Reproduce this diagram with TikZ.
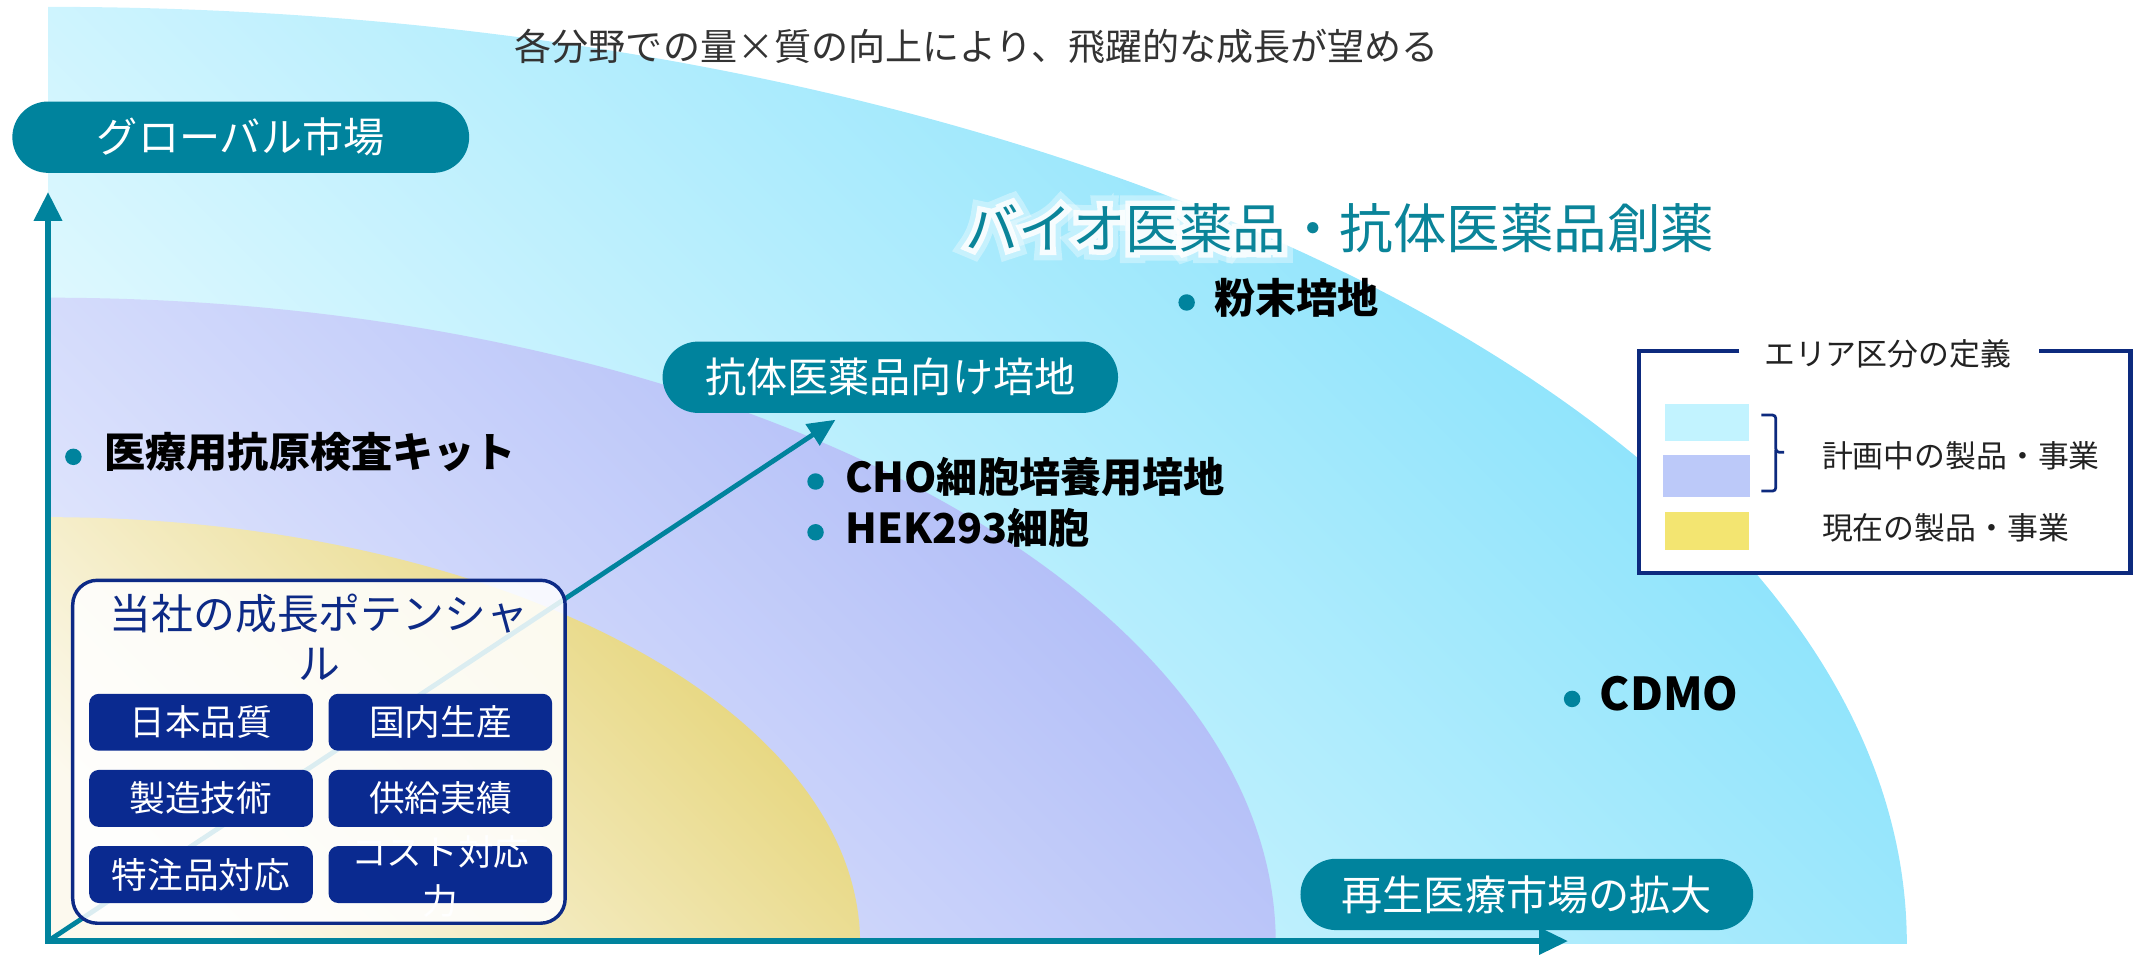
\documentclass[tikz,border=0pt]{standalone}
\usepackage{fontspec}
\setmainfont{Noto Sans CJK JP}
\newfontfamily\glowA{Noto Sans CJK JP}[FakeBold=20]
\newfontfamily\glowB{Noto Sans CJK JP}[FakeBold=40]
\usetikzlibrary{arrows.meta,calc}
\definecolor{teal1}{HTML}{00839D}
\definecolor{teal2}{HTML}{0A8499}
\definecolor{navy1}{HTML}{0D2A86}
\definecolor{navy2}{HTML}{0A2A90}
\definecolor{legnavy}{HTML}{0D2A7E}
\definecolor{gray3}{HTML}{333333}
\definecolor{gray2}{HTML}{222222}
\definecolor{cyanL}{HTML}{EAFBFF}
\definecolor{cyanM}{HTML}{B3EDFD}
\definecolor{cyanD}{HTML}{80E0FB}
\definecolor{lavL}{HTML}{E4E9FD}
\definecolor{lavD}{HTML}{ABB8F7}
\definecolor{yelL}{HTML}{FCF9EE}
\definecolor{yelD}{HTML}{E4D270}
\definecolor{swC}{HTML}{C2F3FF}
\definecolor{swL}{HTML}{BCC9F9}
\definecolor{swY}{HTML}{F3E571}
\begin{document}
\begin{tikzpicture}[x=1pt,y=-1pt,
  pill/.style={fill=teal1, rounded corners=26pt, minimum width=333pt, minimum height=52pt, text=white, font=\fontsize{30}{36}\selectfont, inner sep=0pt},
  bul/.style={circle, fill=teal1, minimum size=12pt, inner sep=0pt},
  bultxt/.style={anchor=west, font=\bfseries\fontsize{30}{36}\selectfont, inner sep=0pt, text=black},
  btn/.style={fill=navy2, rounded corners=7pt, minimum width=163pt, minimum height=41.5pt, inner sep=0pt},
  btntxt/.style={text=white, font=\fontsize{26}{36}\selectfont, inner sep=0pt, align=center},
  axisline/.style={draw=teal1, line width=4pt},
  legtxt/.style={anchor=west, text=gray2, font=\fontsize{22.5}{26}\selectfont, inner sep=0pt},
  biotxt/.style={inner sep=0pt}
]
\useasboundingbox (0,0) rectangle (1568,699);
% regions
\shade[top color=cyanD, middle color=cyanM, bottom color=cyanL, shading angle=-45]
  (35,688) -- (35,5) arc[start angle=-90, end angle=0, x radius=1355, y radius=683] -- cycle;
\shade[top color=lavD, bottom color=lavL, shading angle=-45]
  (35,688) -- (35,217) arc[start angle=-90, end angle=0, x radius=895, y radius=471] -- cycle;
\shade[top color=yelD, bottom color=yelL, shading angle=-45]
  (35,688) -- (35,377) arc[start angle=-90, end angle=0, x radius=592, y radius=311] -- cycle;
% axes
\coordinate (origin) at (35,686);
\coordinate (ytop) at (35,140);
\coordinate (xend) at (1143,686);
\coordinate (diagtip) at (609,306);
\draw[axisline, -{Triangle[length=21pt,width=20pt]}] (origin) -- (ytop);
\draw[axisline, -{Triangle[length=21pt,width=19pt]}] ([xshift=-2pt]origin) -- (xend);
\draw[draw=teal1, line width=3.5pt, -{Triangle[length=20pt,width=18pt]}] (origin) -- (diagtip);
% title
\node[font=\fontsize{27}{30}\selectfont, text=gray3, inner sep=0pt] (title) at (712,34) {各分野での量×質の向上により、飛躍的な成長が望める};
% pills
\node[pill] (global) at (175.5,100) {グローバル市場};
\node[pill, minimum width=332pt] (abmed) at (649,275) {抗体医薬品向け培地};
\node[pill, minimum width=330pt] (regen) at (1113,652) {再生医療市場の拡大};
% bio text with glow
\node[biotxt, text=white, opacity=0.35, font=\glowB\fontsize{39}{44}\selectfont] (bioglow2) at (976.5,166) {バイオ医薬品・抗体医薬品創薬};
\node[biotxt, text=white, opacity=0.85, font=\glowA\fontsize{39}{44}\selectfont] (bioglow1) at (976.5,166) {バイオ医薬品・抗体医薬品創薬};
\node[biotxt, text=teal2, font=\fontsize{39}{44}\selectfont] (bio) at (976.5,166) {バイオ医薬品・抗体医薬品創薬};
% bullets
\node[bul] (d1) at (865,220.5) {};
\node[bultxt] (t1) at (885,217) {粉末培地};
\node[bul] (d2) at (53.5,333) {};
\node[bultxt] (t2) at (76,329.5) {医療用抗原検査キット};
\node[bul] (d3) at (594.5,351) {};
\node[bultxt] (t3) at (616,347.5) {CHO細胞培養用培地};
\node[bul] (d4) at (594.5,388) {};
\node[bultxt] (t4) at (616,385) {HEK293細胞};
\node[bul] (d5) at (1146,509.5) {};
\node[bultxt, font=\bfseries\fontsize{33}{36}\selectfont] (t5) at (1166,505.5) {CDMO};
% potential box
\node[draw=navy1, line width=2.5pt, fill=white, fill opacity=0.86, rounded corners=18pt,
  minimum width=359pt, minimum height=250pt, inner sep=0pt] (potbox) at (232.5,548) {};
\node[text=navy1, font=\fontsize{30.5}{37}\selectfont, align=center, inner sep=0pt] (pottitle) at (232.5,464.5) {当社の成長ポテンシャ\\ル};
\node[btn] (b1) at (146.5,526.5) {};
\node[btntxt] at (b1) {日本品質};
\node[btn] (b2) at (321,526.5) {};
\node[btntxt] at (b2) {国内生産};
\node[btn] (b3) at (146.5,582) {};
\node[btntxt] at (b3) {製造技術};
\node[btn] (b4) at (321,582) {};
\node[btntxt] at (b4) {供給実績};
\node[btn] (b5) at (146.5,637.5) {};
\node[btntxt] at (b5) {特注品対応};
\node[btn] (b6) at (321,637.5) {};
\node[btntxt] at (321,639) {コスト対応\\力};
% legend
\fill[white] (1194.5,256) rectangle (1553,417.5);
\draw[legnavy, line width=3pt] (1268,256) -- (1194.5,256) -- (1194.5,417.5) -- (1553,417.5) -- (1553,256) -- (1486,256);
\node[legtxt, anchor=center] (legtitle) at (1376,258) {エリア区分の定義};
\node[fill=swC, minimum width=61pt, minimum height=27.5pt, inner sep=0pt] (sw1) at (1244.5,308) {};
\node[fill=swL, minimum width=64pt, minimum height=30pt, inner sep=0pt] (sw2) at (1244,347) {};
\node[fill=swY, minimum width=61pt, minimum height=28pt, inner sep=0pt] (sw3) at (1244.5,387) {};
\draw[legnavy, line width=2pt, rounded corners=2.5pt] (1284,302.5) -- (1294.5,302.5) -- (1294.5,329.7) -- (1300.5,329.7);
\draw[legnavy, line width=2pt, rounded corners=2.5pt] (1294.5,328) -- (1294.5,358) -- (1284,358);
\node[legtxt] (leg1) at (1328,332) {計画中の製品・事業};
\node[legtxt] (leg2) at (1328,385) {現在の製品・事業};
\end{tikzpicture}
\end{document}
